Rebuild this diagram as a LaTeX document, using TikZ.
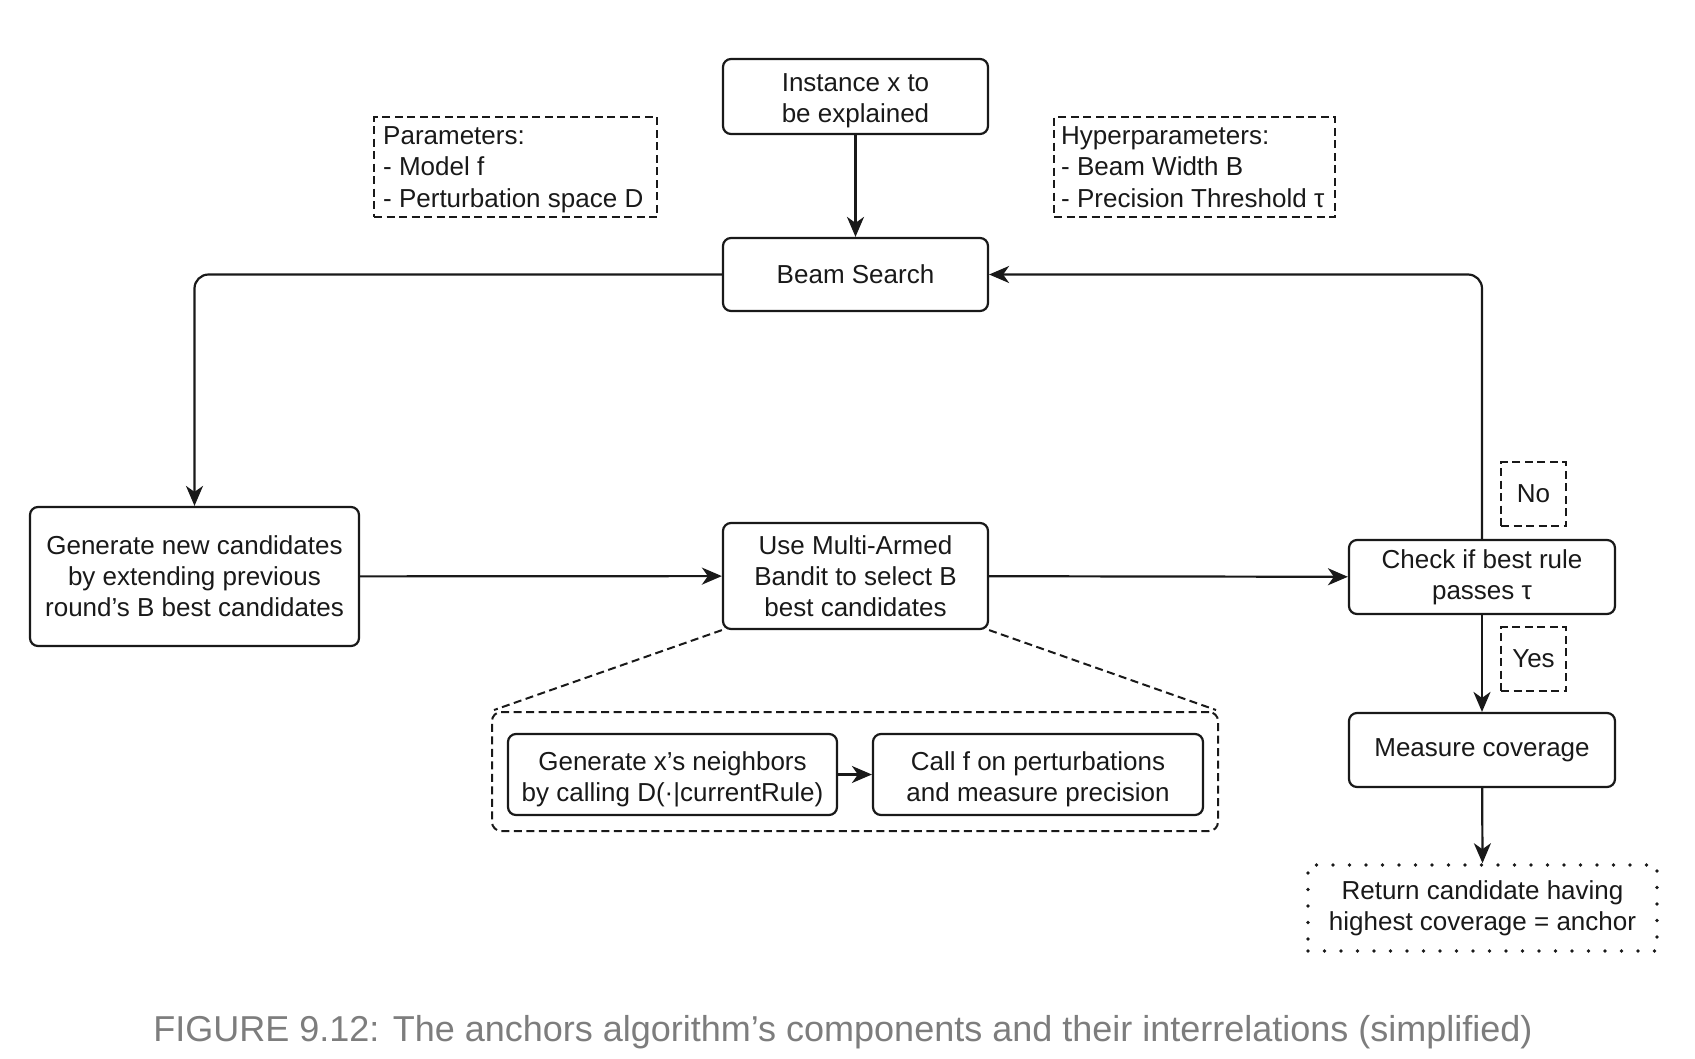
\documentclass[tikz,border=0pt]{standalone}
\usepackage{fontspec}
\setmainfont{Liberation Sans}
\usetikzlibrary{arrows.meta}
\definecolor{capgray}{RGB}{125,125,125}
\definecolor{ink}{RGB}{25,25,25}
\begin{document}
\begin{tikzpicture}[x=1pt,y=-1pt,
  box/.style={draw=ink, text=ink, line width=2.2pt, rounded corners=8pt, align=center, inner sep=0pt,
    font=\fontsize{26}{31}\selectfont},
  dbox/.style={draw=ink, text=ink, line width=2pt, dash pattern=on 8pt off 4.5pt, inner sep=0pt,
    font=\fontsize{26}{32}\selectfont},
  plain/.style={text=ink, inner sep=0pt, align=left, font=\fontsize{26}{31.5}\selectfont},
  dotbox/.style={draw=ink, text=ink, line width=3.6pt, line cap=round, dash pattern=on 0pt off 16.5pt, align=center, inner sep=0pt,
    font=\fontsize{26}{31}\selectfont},
  arr/.style={draw=ink, line width=2.2pt, -{Stealth[length=20pt,width=17pt,inset=6pt]}},
  dline/.style={draw=ink, line width=2pt, dash pattern=on 8pt off 4.5pt}
]
\useasboundingbox (0,0) rectangle (1695,1058);

\node[box, minimum width=265pt, minimum height=75pt] (inst) at (855.5,96.5) {\rule{0pt}{27pt}Instance x to\\be explained};
\node[box, minimum width=265pt, minimum height=73pt] (beam) at (855.5,274.5) {Beam Search};

\node[dbox, minimum width=283pt, minimum height=100pt] (params) at (515.5,167) {};
\node[plain, anchor=north west] (paramstxt) at ([xshift=10pt,yshift=-10pt]params.north west)
  {Parameters:\\- Model f\\- Perturbation space D};
\node[dbox, minimum width=281pt, minimum height=100pt] (hyper) at (1194.5,167) {};
\node[plain, anchor=north west] (hypertxt) at ([xshift=8pt,yshift=-10pt]hyper.north west)
  {Hyperparameters:\\- Beam Width B\\- Precision Threshold τ};

\node[box, minimum width=329pt, minimum height=139pt] (gen) at (194.5,576.5)
  {Generate new candidates\\by extending previous\\round's B best candidates};
\node[box, minimum width=265pt, minimum height=106pt] (mab) at (855.5,576)
  {Use Multi-Armed\\Bandit to select B\\best candidates};
\node[box, minimum width=266pt, minimum height=74pt] (check) at (1482,577)
  {Check if best rule\\passes τ};
\node[dbox, minimum width=65pt, minimum height=64pt, align=center] (no) at (1533.5,494) {No};
\node[dbox, minimum width=65pt, minimum height=64pt, align=center] (yes) at (1533.5,659) {Yes};
\node[box, minimum width=266pt, minimum height=74pt] (meas) at (1482,750) {Measure coverage};
\node[dotbox, minimum width=349pt, minimum height=86pt] (ret) at (1482.5,908)
  {Return candidate having\\highest coverage = anchor};

\node[dline, rounded corners=9pt, minimum width=726pt, minimum height=119pt, inner sep=0pt] (cont) at (855,771.5) {};
\node[box, minimum width=329pt, minimum height=81pt] (in1) at (672.5,774.5)
  {\rule{0pt}{29pt}Generate x's neighbors\\by calling D(·|currentRule)};
\node[box, minimum width=330pt, minimum height=81pt] (in2) at (1038,774.5)
  {\rule{0pt}{29pt}Call f on perturbations\\and measure precision};

\draw[arr] (inst) -- (beam);
\draw[arr, rounded corners=14pt] (beam.west) -| (gen.north);
\draw[arr] (gen) -- (mab);
\draw[arr] (mab) -- (check);
\draw[arr, rounded corners=14pt] (check.north) |- (beam.east);
\draw[arr] (check) -- (meas);
\draw[arr] (meas) -- (ret.north);
\draw[arr] (in1) -- (in2);
\draw[dline] (mab.south west) -- ([xshift=3pt,yshift=1pt]cont.north west);
\draw[dline] (mab.south east) -- ([xshift=-3pt,yshift=1pt]cont.north east);

\node[text=capgray, font=\fontsize{36}{40}\selectfont, inner sep=0pt] (cap) at (843,1032)
  {FIGURE 9.12: The anchors algorithm’s components and their interrelations (simplified)};
\end{tikzpicture}
\end{document}
